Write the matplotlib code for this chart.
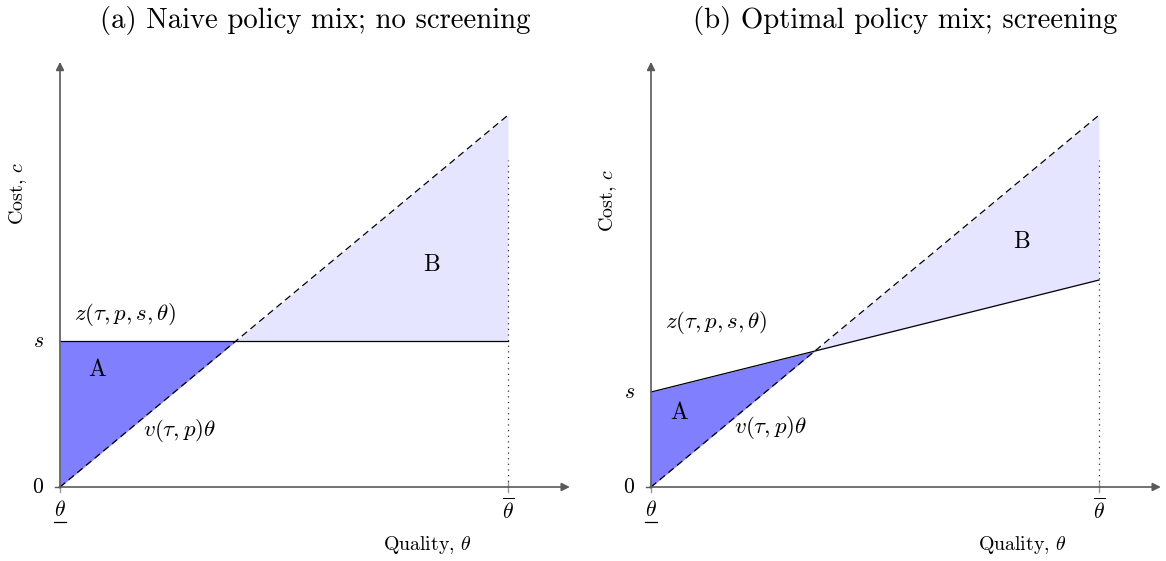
import matplotlib
matplotlib.use("Agg")
import matplotlib.pyplot as plt
import numpy as np

plt.rcParams['mathtext.fontset'] = 'cm'
plt.rcParams['font.family'] = ['cmr10', 'DejaVu Serif']
plt.rcParams['axes.formatter.use_mathtext'] = True

# model values, both panels share theta range and v slope
theta_bar = 10.0
v_slope = 0.83
titles = ['(a) Naive policy mix; no screening', '(b) Optimal policy mix; screening']
s_vals = [3.26, 2.12]          # intercept s of z(.)
z_slopes = [0.0, 0.25]         # slope of z(.) in theta
dotted_top = 7.3

W, H = 1166, 561
scale = 44.8                   # px per data unit
origins = [60, 651]            # px x of origin in each panel
origin_y = 487
axbox = [(0, 590), (591, 1166)]

fill_A = '#8080ff'
fill_B = '#e5e5ff'
axcol = '#5a5a5a'

fig = plt.figure(figsize=(W / 100, H / 100), dpi=100)

label_pos = [
    dict(z=(1.45, 3.84), A=(0.83, 2.61), B=(8.30, 4.96), v=(2.66, 1.27),
         cost=(-0.94, 6.55), qual=(8.19, -1.29), title=315),
    dict(z=(1.45, 3.68), A=(0.62, 1.65), B=(8.28, 5.47), v=(2.66, 1.32),
         cost=(-0.96, 6.4), qual=(8.28, -1.29), title=905),
]

for i in range(2):
    x0, x1 = axbox[i]
    ax = fig.add_axes([x0 / W, 0, (x1 - x0) / W, 521 / H])
    ax.set_xlim((x0 - origins[i]) / scale, (x1 - origins[i]) / scale)
    ax.set_ylim((origin_y - H) / scale, (origin_y - 40) / scale)
    ax.axis('off')

    s = s_vals[i]
    zs = z_slopes[i]
    th = np.linspace(0, theta_bar, 400)
    v = v_slope * th
    z = s + zs * th
    th_star = s / (v_slope - zs)

    ax.fill_between(th, v, z, where=th <= th_star, color=fill_A, lw=0, interpolate=True)
    ax.fill_between(th, z, v, where=th >= th_star, color=fill_B, lw=0, interpolate=True)

    # axes with arrows
    ax.annotate('', xy=(11.38, 0), xytext=(-0.02, 0),
                arrowprops=dict(arrowstyle='-|>', color=axcol, lw=1.2,
                                mutation_scale=12, shrinkA=0, shrinkB=0))
    ax.annotate('', xy=(0, 9.49), xytext=(0, -0.02),
                arrowprops=dict(arrowstyle='-|>', color=axcol, lw=1.2,
                                mutation_scale=12, shrinkA=0, shrinkB=0))
    ax.plot([-0.12, 0.0], [0, 0], color=axcol, lw=1.0)
    for t in [0, theta_bar]:
        ax.plot([t, t], [-0.12, 0.12], color='#999999', lw=1.0)

    ax.plot(th, v, color='black', lw=0.9, dashes=(5.5, 3.5))
    ax.plot(th, z, color='black', lw=0.9)
    ax.plot([theta_bar, theta_bar], [0, dotted_top], color='#333333', lw=0.9,
            dashes=(1, 3.5))

    lp = label_pos[i]
    ax.text(*lp['z'], r'$z(\tau, p, s, \theta)$', fontsize=16.5, ha='center', va='center')
    ax.text(*lp['v'], r'$v(\tau, p)\theta$', fontsize=16.5, ha='center', va='center')
    ax.text(*lp['A'], 'A', fontsize=17, ha='center', va='center')
    ax.text(*lp['B'], 'B', fontsize=17, ha='center', va='center')
    ax.text(-0.35, s, r'$s$', fontsize=15.5, ha='right', va='center')
    ax.text(-0.35, 0, r'$0$', fontsize=15.5, ha='right', va='center')
    ax.text(0, -0.52, r'$\theta$', fontsize=15.5, ha='center', va='center')
    ax.plot([-0.14, 0.14], [-0.78, -0.78], color='black', lw=0.9)
    ax.text(theta_bar, -0.52, r'$\overline{\theta}$', fontsize=15.5, ha='center', va='center')
    ax.text(*lp['cost'], r'Cost, $c$', fontsize=14.5, rotation=90, ha='center', va='center')
    ax.text(*lp['qual'], r'Quality, $\theta$', fontsize=14.3, ha='center', va='center')

    fig.text(lp['title'] / W, 1 - 20 / H, titles[i], fontsize=20.7, ha='center', va='center')

fig.savefig('out.png', dpi=100)
